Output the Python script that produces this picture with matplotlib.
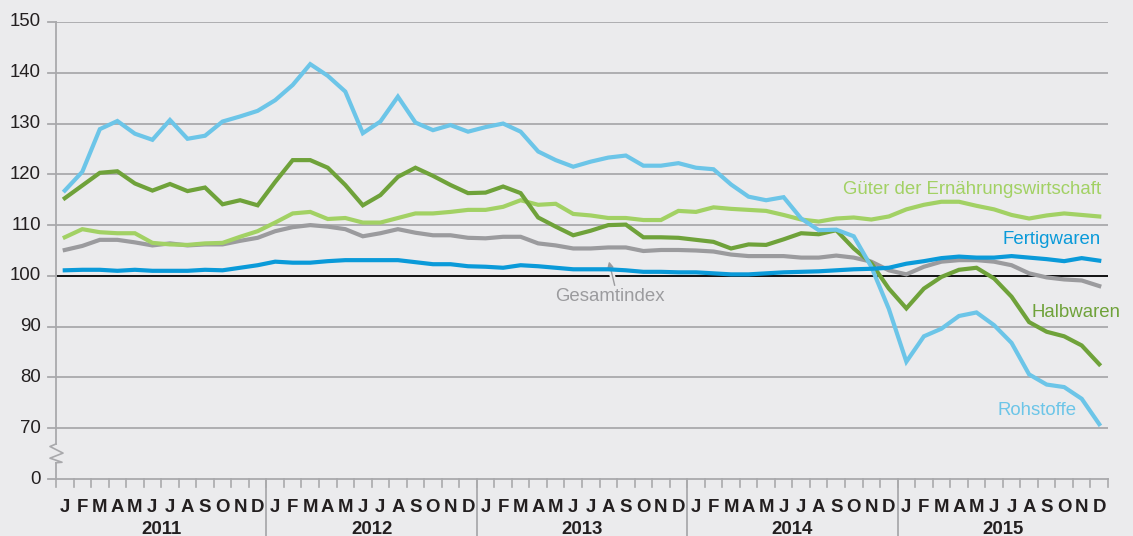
import numpy as np
import matplotlib
matplotlib.use("Agg")
import matplotlib.pyplot as plt
import matplotlib.patheffects as pe
from matplotlib import transforms

# Monatswerte Jan 2011 - Dez 2015 (Index)
years = ["2011", "2012", "2013", "2014", "2015"]
month_letters = ["J", "F", "M", "A", "M", "J", "J", "A", "S", "O", "N", "D"]

rohstoffe = [116.8, 120.5, 128.9, 130.5, 128.0, 126.8, 130.7, 127.0, 127.6, 130.4, 131.4, 132.5,
             134.6, 137.6, 141.7, 139.4, 136.3, 128.1, 130.4, 135.3, 130.2, 128.7, 129.7, 128.4,
             129.3, 130.0, 128.4, 124.5, 122.8, 121.5, 122.5, 123.3, 123.7, 121.7, 121.7, 122.2,
             121.3, 121.0, 118.0, 115.6, 114.9, 115.5, 111.3, 109.0, 109.1, 107.8, 101.8, 93.5,
             83.1, 88.1, 89.6, 92.1, 92.8, 90.3, 86.8, 80.6, 78.6, 78.1, 75.8, 70.8]

halbwaren = [115.3, 117.8, 120.3, 120.6, 118.2, 116.8, 118.1, 116.7, 117.4, 114.1, 114.9, 113.9,
             118.5, 122.8, 122.8, 121.3, 117.9, 113.9, 115.9, 119.5, 121.3, 119.7, 117.9, 116.3,
             116.4, 117.6, 116.3, 111.5, 109.7, 108.0, 108.9, 110.0, 110.1, 107.6, 107.6, 107.5,
             107.1, 106.7, 105.4, 106.2, 106.1, 107.2, 108.4, 108.2, 109.0, 105.4, 102.5, 97.5,
             93.6, 97.5, 99.8, 101.2, 101.6, 99.5, 95.9, 90.9, 89.0, 88.1, 86.3, 82.6]

ernaehrung = [107.6, 109.2, 108.6, 108.4, 108.4, 106.5, 106.2, 106.1, 106.4, 106.5, 107.7, 108.8,
              110.5, 112.3, 112.6, 111.2, 111.4, 110.5, 110.5, 111.4, 112.3, 112.3, 112.6, 113.0,
              113.0, 113.6, 114.9, 114.0, 114.2, 112.2, 111.9, 111.4, 111.4, 111.0, 111.0, 112.8,
              112.6, 113.5, 113.2, 113.0, 112.8, 112.0, 111.1, 110.7, 111.3, 111.5, 111.1, 111.7,
              113.1, 114.0, 114.6, 114.6, 113.8, 113.1, 112.0, 111.3, 111.9, 112.3, 112.0, 111.7]

gesamt = [105.1, 105.9, 107.1, 107.1, 106.6, 106.0, 106.4, 106.0, 106.2, 106.2, 106.9, 107.5,
          108.8, 109.6, 110.0, 109.7, 109.2, 107.8, 108.4, 109.2, 108.5, 108.0, 108.0, 107.5,
          107.4, 107.7, 107.7, 106.4, 106.0, 105.4, 105.4, 105.6, 105.6, 104.9, 105.1, 105.1,
          105.0, 104.8, 104.2, 103.9, 103.9, 103.9, 103.6, 103.6, 104.0, 103.6, 102.8, 101.1,
          100.3, 101.8, 102.8, 103.1, 103.1, 102.8, 102.1, 100.5, 99.7, 99.3, 99.1, 98.0]

fertigwaren = [101.1, 101.2, 101.2, 101.0, 101.2, 101.0, 101.0, 101.0, 101.2, 101.1, 101.6, 102.1,
               102.8, 102.6, 102.6, 102.9, 103.1, 103.1, 103.1, 103.1, 102.7, 102.3, 102.3, 101.9,
               101.8, 101.6, 102.1, 101.9, 101.6, 101.3, 101.3, 101.3, 101.1, 100.8, 100.8, 100.7,
               100.7, 100.5, 100.3, 100.3, 100.5, 100.7, 100.8, 100.9, 101.1, 101.3, 101.4, 101.6,
               102.4, 102.9, 103.5, 103.8, 103.6, 103.6, 103.9, 103.6, 103.3, 102.9, 103.5, 103.0]

ytick_values = [60, 70, 80, 90, 100, 110, 120, 130, 140, 150]
ytick_labels = ["0", "70", "80", "90", "100", "110", "120", "130", "140", "150"]

BG = "#ebebed"
GRID = "#a9a9ac"
TXT = "#231f20"
C_ROH = "#6cc5e8"
C_HALB = "#6fa23a"
C_ERN = "#a2d164"
C_GES = "#9b9b9e"
C_FERT = "#0a9ad9"
FS = 13.4

plt.rcParams['font.family'] = ['Liberation Sans', 'DejaVu Sans']

fig = plt.figure(figsize=(11.33, 5.36), dpi=100, facecolor=BG)
ax = fig.add_axes([56 / 1133, 57 / 536, 1052 / 1133, 457 / 536], facecolor=BG)

n = len(years) * 12
x = np.arange(n) + 0.5

# gridlines (100 in black)
for v in ytick_values[1:]:
    if v == 100:
        ax.axhline(v, color="black", lw=1.3, zorder=2)
    else:
        ax.axhline(v, color=GRID, lw=1.3, zorder=1)

series = [
    (gesamt, C_GES),
    (ernaehrung, C_ERN),
    (halbwaren, C_HALB),
    (rohstoffe, C_ROH),
    (fertigwaren, C_FERT),
]
for vals, col in series:
    ax.plot(x, vals, color=col, lw=3.0, solid_joinstyle="miter", zorder=3)

ax.set_xlim(0, n)
ax.set_ylim(60, 150)
for s in ax.spines.values():
    s.set_visible(False)
ax.set_xticks([])
ax.set_yticks([])

# y axis with break mark
px = 1 / 17.533  # one pixel in x data units
ax.plot([0, 0], [150, 66.9], color=GRID, lw=1.3, clip_on=False, zorder=2)
ax.plot([0, 0], [63.2, 60], color=GRID, lw=1.3, clip_on=False, zorder=2)
ax.plot(np.array([0, -6, 7, -6, 6, 0]) * px, [66.9, 66.4, 65.1, 64.1, 63.3, 63.2],
        color=GRID, lw=1.2, clip_on=False, zorder=2)

for v, lab in zip(ytick_values, ytick_labels):
    ax.plot([-8 * px, 0], [v, v], color=GRID, lw=1.3, clip_on=False)
    ax.text(-15 * px, v, lab, ha="right", va="center", fontsize=FS, color=TXT)

# x axis: month ticks, year separators, labels
ax.plot([0, n], [60, 60], color=GRID, lw=1.3, clip_on=False, zorder=2)
xtrans = transforms.blended_transform_factory(ax.transData, fig.transFigure)
for k in range(n + 1):
    ax.plot([k, k], [1 - 479 / 536, 1 - 487 / 536], color=GRID, lw=1.2,
            transform=xtrans, clip_on=False)
for k in range(1, len(years)):
    ax.plot([12 * k, 12 * k], [1 - 479 / 536, 0], color=GRID, lw=1.3,
            transform=xtrans, clip_on=False)
for k, yr in enumerate(years):
    for m, ml in enumerate(month_letters):
        ax.text(12 * k + m + 0.5, 1 - 507 / 536, ml, ha="center", va="center",
                fontsize=FS, fontweight="bold", color=TXT, transform=xtrans)
    ax.text(12 * k + 6, 1 - 529 / 536, yr, ha="center", va="center",
            fontsize=FS, fontweight="bold", color=TXT, transform=xtrans)

# series labels
ax.text(59.6, 117.1, "Güter der Ernährungswirtschaft", ha="right", va="center",
        fontsize=FS, color=C_ERN)
ax.text(59.6, 107.2, "Fertigwaren", ha="right", va="center", fontsize=FS, color=C_FERT)
ax.text(60.7, 92.7, "Halbwaren", ha="right", va="center", fontsize=FS, color=C_HALB)
ax.text(58.2, 73.5, "Rohstoffe", ha="right", va="center", fontsize=FS, color=C_ROH)
ax.text(31.6, 96.0, "Gesamtindex", ha="center", va="center", fontsize=FS, color=C_GES)
ax.annotate("", xy=(31.5, 103.4), xytext=(31.9, 97.6),
            arrowprops=dict(arrowstyle="-|>", color=C_GES, lw=1.0, mutation_scale=9,
                            path_effects=[pe.withStroke(linewidth=4, foreground=BG)]),
            zorder=2.5)

fig.savefig("out.png", dpi=100, facecolor=BG)
